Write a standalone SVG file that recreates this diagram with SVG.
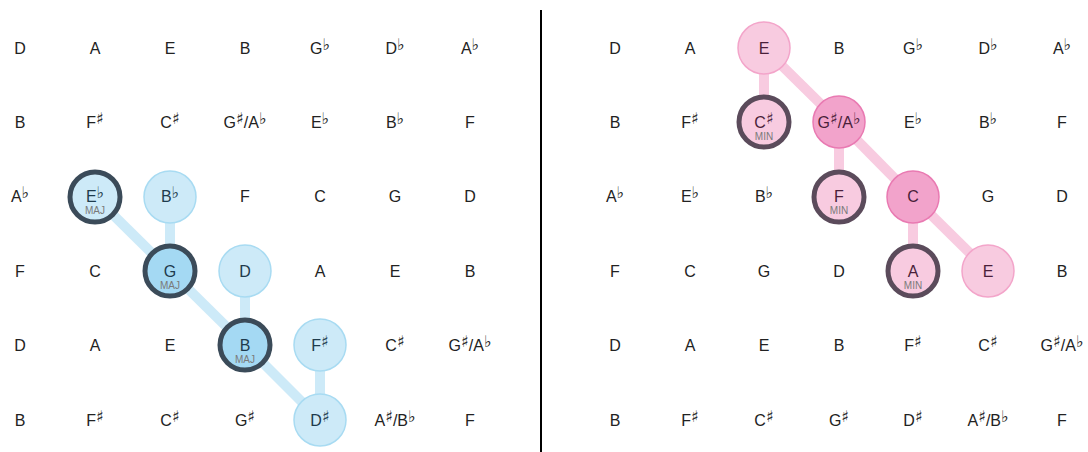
<svg xmlns="http://www.w3.org/2000/svg" width="1088" height="452" viewBox="0 0 1088 452">
<style>
text{font-family:"Liberation Sans","DejaVu Sans",sans-serif;font-size:16px;fill:#222;text-anchor:middle}
.acc{font-size:16px;font-family:"DejaVu Sans","Liberation Sans",sans-serif}
.tag{font-size:10px;fill:#7a7a7a}
.bl{fill:#cdeaf8;stroke:#a8dbf2;stroke-width:1.5}
.bd{fill:#a4d9f3;stroke:#3b4b59;stroke-width:5}
.bdl{fill:#cdeaf8;stroke:#3b4b59;stroke-width:5}
.pl{fill:#f8cbe0;stroke:#f3a5ca;stroke-width:1.5}
.pm{fill:#f2a3cb;stroke:#e97ab2;stroke-width:1.5}
.pd{fill:#f8cbe0;stroke:#5b4b5b;stroke-width:5}
.cb{stroke:#cdeaf8;stroke-width:10}
.cp{stroke:#f8cbe0;stroke-width:10}
.tb{fill:#1e3b4d}
.tp{fill:#4a1f3a}
</style>
<rect width="1088" height="452" fill="#fff"/>
<line x1="541" y1="10" x2="541" y2="452" stroke="#000" stroke-width="2"/>
<g id="connectors">
<line class="cb" x1="95" y1="197" x2="170" y2="271"/>
<line class="cb" x1="170" y1="197" x2="170" y2="271"/>
<line class="cb" x1="170" y1="271" x2="245" y2="345"/>
<line class="cb" x1="245" y1="271" x2="245" y2="345"/>
<line class="cb" x1="245" y1="345" x2="320" y2="420"/>
<line class="cb" x1="320" y1="345" x2="320" y2="420"/>
<line class="cp" x1="764" y1="48" x2="764" y2="122"/>
<line class="cp" x1="764" y1="48" x2="839" y2="122"/>
<line class="cp" x1="839" y1="122" x2="839" y2="197"/>
<line class="cp" x1="839" y1="122" x2="913" y2="197"/>
<line class="cp" x1="913" y1="197" x2="913" y2="271"/>
<line class="cp" x1="913" y1="197" x2="988" y2="271"/>
</g>
<g id="left-grid">
<text x="20" y="54">D</text><text x="95" y="54">A</text><text x="170" y="54">E</text><text x="245" y="54">B</text>
<text x="320" y="54">G<tspan class="acc" dy="-4">♭</tspan></text>
<text x="395" y="54">D<tspan class="acc" dy="-4">♭</tspan></text>
<text x="470" y="54">A<tspan class="acc" dy="-4">♭</tspan></text>
<text x="20" y="128">B</text>
<text x="95" y="128">F<tspan class="acc" dy="-4">♯</tspan></text>
<text x="170" y="128">C<tspan class="acc" dy="-4">♯</tspan></text>
<text x="245" y="128">G<tspan class="acc" dy="-4">♯</tspan><tspan dy="4">/A</tspan><tspan class="acc" dy="-4">♭</tspan></text>
<text x="320" y="128">E<tspan class="acc" dy="-4">♭</tspan></text>
<text x="395" y="128">B<tspan class="acc" dy="-4">♭</tspan></text>
<text x="470" y="128">F</text>
<text x="20" y="202">A<tspan class="acc" dy="-4">♭</tspan></text>
<text x="245" y="202">F</text><text x="320" y="202">C</text><text x="395" y="202">G</text><text x="470" y="202">D</text>
<text x="20" y="277">F</text><text x="95" y="277">C</text>
<text x="320" y="277">A</text><text x="395" y="277">E</text><text x="470" y="277">B</text>
<text x="20" y="351">D</text><text x="95" y="351">A</text><text x="170" y="351">E</text>
<text x="395" y="351">C<tspan class="acc" dy="-4">♯</tspan></text>
<text x="470" y="351">G<tspan class="acc" dy="-4">♯</tspan><tspan dy="4">/A</tspan><tspan class="acc" dy="-4">♭</tspan></text>
<text x="20" y="426">B</text>
<text x="95" y="426">F<tspan class="acc" dy="-4">♯</tspan></text>
<text x="170" y="426">C<tspan class="acc" dy="-4">♯</tspan></text>
<text x="245" y="426">G<tspan class="acc" dy="-4">♯</tspan></text>
<text x="395" y="426">A<tspan class="acc" dy="-4">♯</tspan><tspan dy="4">/B</tspan><tspan class="acc" dy="-4">♭</tspan></text>
<text x="470" y="426">F</text>
</g>
<g id="node-Eb"><circle class="bdl" cx="95" cy="197" r="25"/><text class="tb" x="95" y="202">E<tspan class="acc tb" dy="-4">♭</tspan></text><text class="tag" x="95" y="214">MAJ</text></g>
<g id="node-Bb"><circle class="bl" cx="170" cy="197" r="26"/><text class="tb" x="170" y="202">B<tspan class="acc tb" dy="-4">♭</tspan></text></g>
<g id="node-G"><circle class="bd" cx="170" cy="271" r="25"/><text class="tb" x="170" y="277">G</text><text class="tag" x="170" y="289">MAJ</text></g>
<g id="node-D"><circle class="bl" cx="245" cy="271" r="26"/><text class="tb" x="245" y="277">D</text></g>
<g id="node-B"><circle class="bd" cx="245" cy="345" r="25"/><text class="tb" x="245" y="351">B</text><text class="tag" x="245" y="363">MAJ</text></g>
<g id="node-Fs"><circle class="bl" cx="320" cy="345" r="26"/><text class="tb" x="320" y="351">F<tspan class="acc tb" dy="-4">♯</tspan></text></g>
<g id="node-Ds"><circle class="bl" cx="320" cy="420" r="26"/><text class="tb" x="320" y="426">D<tspan class="acc tb" dy="-4">♯</tspan></text></g>
<g id="right-grid">
<text x="615" y="54">D</text><text x="690" y="54">A</text><text x="839" y="54">B</text>
<text x="913" y="54">G<tspan class="acc" dy="-4">♭</tspan></text>
<text x="988" y="54">D<tspan class="acc" dy="-4">♭</tspan></text>
<text x="1062" y="54">A<tspan class="acc" dy="-4">♭</tspan></text>
<text x="615" y="128">B</text>
<text x="690" y="128">F<tspan class="acc" dy="-4">♯</tspan></text>
<text x="913" y="128">E<tspan class="acc" dy="-4">♭</tspan></text>
<text x="988" y="128">B<tspan class="acc" dy="-4">♭</tspan></text>
<text x="1062" y="128">F</text>
<text x="615" y="202">A<tspan class="acc" dy="-4">♭</tspan></text>
<text x="690" y="202">E<tspan class="acc" dy="-4">♭</tspan></text>
<text x="764" y="202">B<tspan class="acc" dy="-4">♭</tspan></text>
<text x="988" y="202">G</text><text x="1062" y="202">D</text>
<text x="615" y="277">F</text><text x="690" y="277">C</text><text x="764" y="277">G</text><text x="839" y="277">D</text><text x="1062" y="277">B</text>
<text x="615" y="351">D</text><text x="690" y="351">A</text><text x="764" y="351">E</text><text x="839" y="351">B</text>
<text x="913" y="351">F<tspan class="acc" dy="-4">♯</tspan></text>
<text x="988" y="351">C<tspan class="acc" dy="-4">♯</tspan></text>
<text x="1062" y="351">G<tspan class="acc" dy="-4">♯</tspan><tspan dy="4">/A</tspan><tspan class="acc" dy="-4">♭</tspan></text>
<text x="615" y="426">B</text>
<text x="690" y="426">F<tspan class="acc" dy="-4">♯</tspan></text>
<text x="764" y="426">C<tspan class="acc" dy="-4">♯</tspan></text>
<text x="839" y="426">G<tspan class="acc" dy="-4">♯</tspan></text>
<text x="913" y="426">D<tspan class="acc" dy="-4">♯</tspan></text>
<text x="988" y="426">A<tspan class="acc" dy="-4">♯</tspan><tspan dy="4">/B</tspan><tspan class="acc" dy="-4">♭</tspan></text>
<text x="1062" y="426">F</text>
</g>
<g id="node-E-top"><circle class="pl" cx="764" cy="48" r="26"/><text class="tp" x="764" y="54">E</text></g>
<g id="node-Cs"><circle class="pd" cx="764" cy="122" r="25"/><text class="tp" x="764" y="128">C<tspan class="acc tp" dy="-4">♯</tspan></text><text class="tag" x="764" y="140">MIN</text></g>
<g id="node-GsAb"><circle class="pm" cx="839" cy="122" r="26"/><text class="tp" x="839" y="128">G<tspan class="acc tp" dy="-4">♯</tspan><tspan dy="4">/A</tspan><tspan class="acc tp" dy="-4">♭</tspan></text></g>
<g id="node-F"><circle class="pd" cx="839" cy="197" r="25"/><text class="tp" x="839" y="202">F</text><text class="tag" x="839" y="214">MIN</text></g>
<g id="node-C"><circle class="pm" cx="913" cy="197" r="26"/><text class="tp" x="913" y="202">C</text></g>
<g id="node-A"><circle class="pd" cx="913" cy="271" r="25"/><text class="tp" x="913" y="277">A</text><text class="tag" x="913" y="289">MIN</text></g>
<g id="node-E-low"><circle class="pl" cx="988" cy="271" r="26"/><text class="tp" x="988" y="277">E</text></g>
</svg>
